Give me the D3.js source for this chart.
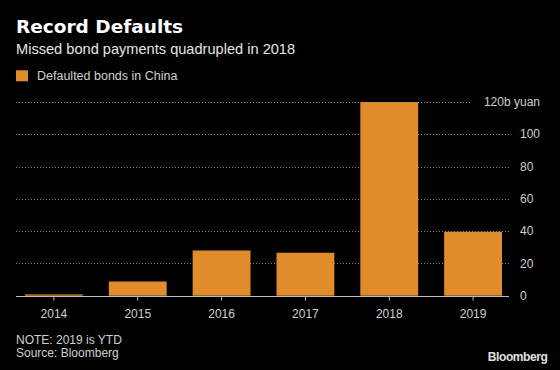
<!DOCTYPE html>
<html><head><meta charset="utf-8">
<script src="https://cdn.jsdelivr.net/npm/d3@7"></script>
<style>html,body{margin:0;padding:0;background:#000;}svg{display:block;}</style>
</head><body>
<script>
const years = ["2014","2015","2016","2017","2018","2019"];
const defaults = [0.8, 8.8, 28.0, 26.6, 120.0, 39.6];
const yTicks = [0, 20, 40, 60, 80, 100, 120];
const yTickLabels = ["0","20","40","60","80","100","120b yuan"];
const title = "Record Defaults";
const subtitle = "Missed bond payments quadrupled in 2018";
const legendLabel = "Defaulted bonds in China";
const notes = ["NOTE: 2019 is YTD", "Source: Bloomberg"];

const W = 560, H = 370;
const orange = "#e08c2a";
const svg = d3.select("body").append("svg").attr("width", W).attr("height", H)
  .style("background", "#000");

const x = d3.scaleBand().domain(years).range([12, 515]).paddingInner(0.31).paddingOuter(0.155);
const y = d3.scaleLinear().domain([0, 120]).range([295.7, 102]);

// Title block
svg.append("text").attr("x", 16).attr("y", 33).text(title)
  .attr("font-family", "DejaVu Sans").attr("font-weight", "bold").attr("font-size", 18.5).attr("fill", "#fff");
svg.append("text").attr("x", 16).attr("y", 54).text(subtitle)
  .attr("font-family", "Liberation Sans").attr("font-size", 14.6).attr("fill", "#e6e6e6");

// Legend
svg.append("rect").attr("x", 16).attr("y", 70.3).attr("width", 12).attr("height", 11).attr("fill", orange);
svg.append("text").attr("x", 37).attr("y", 79.5).text(legendLabel)
  .attr("font-family", "Liberation Sans").attr("font-size", 12.5).attr("fill", "#d0d0d0");

// Gridlines + right labels
const labelX = 520;
const gridG = svg.append("g");
yTicks.forEach((t, i) => {
  const isTop = i === yTicks.length - 1;
  const lbl = gridG.append("text")
    .attr("y", y(t)).attr("dy", "0.35em")
    .attr("font-family", "Liberation Sans").attr("font-size", 12).attr("fill", "#cfcfcf")
    .text(yTickLabels[i]);
  let gridEnd;
  if (isTop) {
    lbl.attr("x", 540).attr("text-anchor", "end");
    gridEnd = 472;
  } else {
    lbl.attr("x", labelX).attr("text-anchor", "start");
    gridEnd = 510;
  }
  if (t !== 0) {
    gridG.append("line").attr("x1", 16).attr("x2", gridEnd)
      .attr("y1", Math.round(y(t)) + 0.5).attr("y2", Math.round(y(t)) + 0.5)
      .attr("stroke", "#8a8a8a").attr("stroke-width", 1).attr("stroke-dasharray", "1,2");
  }
});

// Bars
svg.append("g").selectAll("rect").data(years).join("rect")
  .attr("x", d => x(d)).attr("width", x.bandwidth())
  .attr("y", (d, i) => y(defaults[i]))
  .attr("height", (d, i) => y(0) - y(defaults[i]))
  .attr("fill", orange);

// Baseline axis
const xAxis = d3.axisBottom(x).tickSize(4).tickPadding(9).tickSizeOuter(0);
const ax = svg.append("g").attr("transform", `translate(0,${Math.round(y(0)) + 0.5})`).call(xAxis);
ax.select(".domain").remove();
ax.selectAll(".tick line").attr("stroke", "#bdbdbd");
ax.selectAll(".tick text").attr("font-family", "Liberation Sans").attr("font-size", 12).attr("fill", "#cfcfcf");
ax.append("line").attr("x1", 16).attr("x2", 509).attr("y1", 0).attr("y2", 0).attr("stroke", "#bdbdbd");

// Notes
notes.forEach((n, i) => {
  svg.append("text").attr("x", 16).attr("y", 344.3 + i * 13).text(n)
    .attr("font-family", "Liberation Sans").attr("font-size", 12).attr("fill", "#d0d0d0");
});
svg.append("text").attr("x", 547.5).attr("y", 361).attr("text-anchor", "end").text("Bloomberg")
  .attr("font-family", "Liberation Sans").attr("font-weight", "bold").attr("font-size", 12)
  .attr("letter-spacing", "-0.4").attr("fill", "#e0e0e0");
</script>
</body></html>
